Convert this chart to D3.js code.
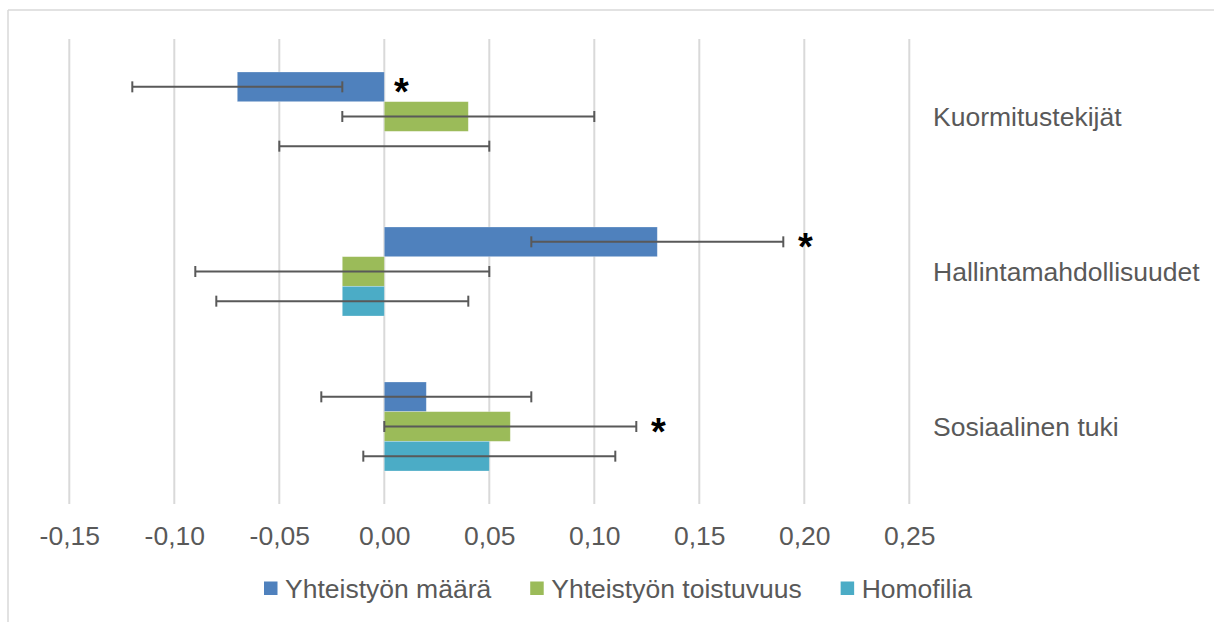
<!DOCTYPE html>
<html><head><meta charset="utf-8">
<script src="https://cdn.jsdelivr.net/npm/d3@7/dist/d3.min.js"></script>
<style>html,body{margin:0;padding:0;background:#fff;}svg{display:block;font-family:"Liberation Sans",Arial,sans-serif;}</style>
</head><body>
<script>
const categories = ["Kuormitustekijät", "Hallintamahdollisuudet", "Sosiaalinen tuki"];
const seriesNames = ["Yhteistyön määrä", "Yhteistyön toistuvuus", "Homofilia"];
const seriesColors = ["#4F81BD", "#9BBB59", "#4BACC6"];
// values per series, in category order
const maaraValues = [-0.07, 0.13, 0.02];
const toistuvuusValues = [0.04, -0.02, 0.06];
const homofiliaValues = [0.00, -0.02, 0.05];
// error bar low / high
const maaraLow = [-0.12, 0.07, -0.03];
const maaraHigh = [-0.02, 0.19, 0.07];
const toistuvuusLow = [-0.02, -0.09, 0.00];
const toistuvuusHigh = [0.10, 0.05, 0.12];
const homofiliaLow = [-0.05, -0.08, -0.01];
const homofiliaHigh = [0.05, 0.04, 0.11];
// significance markers
const maaraSig = [true, true, false];
const toistuvuusSig = [false, false, true];
const homofiliaSig = [false, false, false];
const tickValues = [-0.15, -0.10, -0.05, 0.00, 0.05, 0.10, 0.15, 0.20, 0.25];

const seriesValues = [maaraValues, toistuvuusValues, homofiliaValues];
const seriesLow = [maaraLow, toistuvuusLow, homofiliaLow];
const seriesHigh = [maaraHigh, toistuvuusHigh, homofiliaHigh];
const seriesSig = [maaraSig, toistuvuusSig, homofiliaSig];

const W = 1214, H = 622;
const FS = 26.5;
const svg = d3.select("body").append("svg").attr("width", W).attr("height", H);

// chart border (top + left visible)
svg.append("line").attr("x1", 8).attr("x2", W).attr("y1", 10).attr("y2", 10).attr("stroke", "#d9d9d9").attr("stroke-width", 1.5);
svg.append("line").attr("x1", 8).attr("x2", 8).attr("y1", 10).attr("y2", H).attr("stroke", "#d9d9d9").attr("stroke-width", 1.5);

const x = d3.scaleLinear().domain([-0.15, 0.25]).range([69.3, 909.3]);
const plotTop = 39, plotBottom = 504;
const y = d3.scaleBand().domain(categories).range([plotTop, plotBottom]).padding(0);
const inner = d3.scaleBand().domain(seriesNames).range([33, 33 + 89]).padding(0);

const fmt = v => d3.format(".2f")(v).replace(".", ",").replace("−", "-");

// gridlines
svg.append("g").selectAll("line").data(tickValues).join("line")
  .attr("x1", d => x(d)).attr("x2", d => x(d))
  .attr("y1", plotTop).attr("y2", plotBottom)
  .attr("stroke", "#d9d9d9").attr("stroke-width", 2);

// tick labels via axis
const axis = d3.axisBottom(x).tickValues(tickValues).tickFormat(fmt).tickSize(0).tickPadding(0);
const ag = svg.append("g").attr("transform", `translate(0,${plotBottom})`).call(axis);
ag.select(".domain").remove();
ag.selectAll("text").attr("font-size", FS).attr("fill", "#595959")
  .attr("font-family", "Liberation Sans, Arial, sans-serif")
  .attr("dy", null).attr("y", 0).attr("transform", "translate(0,40.5)");

// data rows
const rows = [];
seriesNames.forEach((s, si) => {
  categories.forEach((c, ci) => {
    rows.push({s, si, c, v: seriesValues[si][ci], lo: seriesLow[si][ci], hi: seriesHigh[si][ci], sig: seriesSig[si][ci]});
  });
});

const bh = inner.bandwidth();
svg.append("g").selectAll("rect").data(rows).join("rect")
  .attr("x", d => x(Math.min(0, d.v)))
  .attr("width", d => Math.abs(x(d.v) - x(0)))
  .attr("y", d => y(d.c) + inner(d.s))
  .attr("height", bh)
  .attr("fill", d => seriesColors[d.si])
  .attr("stroke", "#ffffff").attr("stroke-opacity", 0.35).attr("stroke-width", 0.75);

// error bars
const eg = svg.append("g").attr("stroke", "#595959").attr("stroke-width", 2);
rows.forEach(d => {
  const cy = y(d.c) + inner(d.s) + bh / 2;
  eg.append("line").attr("x1", x(d.lo)).attr("x2", x(d.hi)).attr("y1", cy).attr("y2", cy);
  eg.append("line").attr("x1", x(d.lo)).attr("x2", x(d.lo)).attr("y1", cy - 5.5).attr("y2", cy + 5.5);
  eg.append("line").attr("x1", x(d.hi)).attr("x2", x(d.hi)).attr("y1", cy - 5.5).attr("y2", cy + 5.5);
});

// significance asterisks
svg.append("g").selectAll("text").data(rows.filter(d => d.sig)).join("text")
  .attr("x", d => x(Math.max(d.v, d.hi, 0)) + (d.hi > 0 ? 22 : 17))
  .attr("y", d => y(d.c) + inner(d.s) + bh / 2 + 18)
  .attr("text-anchor", "middle")
  .attr("font-size", 38).attr("font-weight", "bold").attr("fill", "#000")
  .text("*");

// category labels on right
svg.append("g").selectAll("text").data(categories).join("text")
  .attr("x", 933).attr("y", d => y(d) + y.bandwidth() / 2 + 9)
  .attr("font-size", FS).attr("fill", "#595959")
  .text(d => d);

// legend
const lg = svg.append("g");
let lx = 264;
seriesNames.forEach((s, i) => {
  lg.append("rect").attr("x", lx).attr("y", 581.5).attr("width", 13.5).attr("height", 13.5).attr("fill", seriesColors[i]);
  const t = lg.append("text").attr("x", lx + 21).attr("y", 597.5).attr("font-size", FS).attr("fill", "#595959").text(s);
  lx += 21 + t.node().getComputedTextLength() + 39;
});
</script>
</body></html>
